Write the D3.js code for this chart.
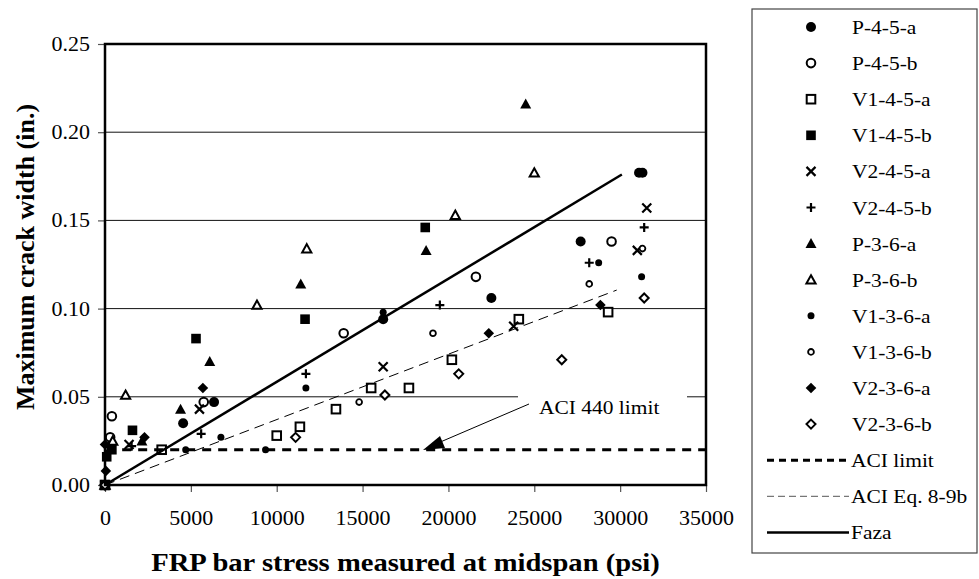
<!DOCTYPE html>
<html><head><meta charset="utf-8">
<script src="https://cdn.jsdelivr.net/npm/d3@7"></script>
<style>body{margin:0;background:#fff}svg{display:block}</style>
</head><body><svg id="c" width="979" height="579"></svg>
<script>
// ---- data ----
const xTicks = [0,5000,10000,15000,20000,25000,30000,35000];
const yTicks = [0,0.05,0.10,0.15,0.20,0.25];
const seriesNames = ["P-4-5-a","P-4-5-b","V1-4-5-a","V1-4-5-b","V2-4-5-a","V2-4-5-b","P-3-6-a","P-3-6-b","V1-3-6-a","V1-3-6-b","V2-3-6-a","V2-3-6-b"];
const P45a  = [[0,0],[350,0.022],[4550,0.035],[6350,0.047],[16200,0.094],[22500,0.106],[27700,0.138],[31100,0.177],[31300,0.177]];
const P45b  = [[0,0],[300,0.027],[400,0.039],[5750,0.047],[13900,0.086],[21600,0.118],[29500,0.138]];
const V145a = [[0,0],[3300,0.020],[10000,0.028],[11350,0.033],[13450,0.043],[15500,0.055],[17700,0.055],[20200,0.071],[24100,0.094],[29300,0.098]];
const V145b = [[0,0],[100,0.016],[400,0.020],[1600,0.031],[5300,0.083],[11650,0.094],[18650,0.146]];
const V245a = [[0,0],[1400,0.023],[5500,0.043],[16200,0.067],[23800,0.090],[31000,0.133],[31550,0.157]];
const V245b = [[0,0],[1550,0.022],[5600,0.029],[11700,0.063],[19500,0.102],[28200,0.126],[31400,0.146]];
const P36a  = [[0,0],[300,0.021],[2150,0.025],[4400,0.043],[6100,0.070],[11400,0.114],[18700,0.133],[24500,0.216]];
const P36b  = [[0,0],[450,0.025],[1200,0.051],[8850,0.102],[11750,0.134],[20400,0.153],[25000,0.177]];
const V136a = [[0,0],[4700,0.020],[6750,0.027],[9350,0.020],[11700,0.055],[16200,0.098],[28750,0.126],[31250,0.118]];
const V136b = [[0,0],[14800,0.047],[19100,0.086],[28200,0.114],[31300,0.134]];
const V236a = [[0,0],[50,0.008],[0,0.023],[2300,0.027],[5700,0.055],[22350,0.086],[28850,0.102]];
const V236b = [[0,0],[11100,0.027],[16300,0.051],[20600,0.063],[26600,0.071],[31400,0.106]];
const aciLimit = [[1000,0.02],[35000,0.02]];
const aciEq    = [[0,0],[29800,0.1105]];
const faza     = [[0,0],[30100,0.176]];
const lineNames = ["ACI limit","ACI Eq. 8-9b","Faza"];
const annotationText = "ACI 440 limit";

// ---- layout ----
const svg = d3.select("#c");
const L=105, R=706, T=44, B=485;
const x = d3.scaleLinear().domain([0,35000]).range([L,R]);
const y = d3.scaleLinear().domain([0,0.25]).range([B,T]);
const FONT = "'Liberation Serif','Times New Roman',serif";
const K = 1.1;
function stretch(sel,k){ sel.each(function(){ const w=this.getComputedTextLength(); d3.select(this).attr("textLength",w*(k||K)).attr("lengthAdjust","spacingAndGlyphs"); }); }

// gridlines
svg.append("g").selectAll("line").data(yTicks.filter(v=>v>0&&v<0.25)).join("line")
  .attr("x1",L).attr("x2",R).attr("y1",d=>y(d)).attr("y2",d=>y(d))
  .attr("stroke","#111").attr("stroke-width",1);

// annotation background
const ann = svg.append("g");
ann.append("rect").attr("x",518).attr("y",392).attr("width",169).attr("height",28).attr("fill","#fff");

// axes
const ya = svg.append("g").attr("transform",`translate(${L},0)`)
  .call(d3.axisLeft(y).tickValues(yTicks).tickSize(7).tickPadding(8).tickFormat(d3.format(".2f")));
const xa = svg.append("g").attr("transform",`translate(0,${B})`)
  .call(d3.axisBottom(x).tickValues(xTicks).tickSize(7).tickPadding(19).tickFormat(d3.format("d")));
[ya,xa].forEach(a=>{
  a.select(".domain").remove();
  a.selectAll(".tick line").attr("stroke","#555").attr("stroke-width",1.2);
  a.selectAll("text").attr("font-family",FONT).attr("font-size",20).attr("fill","#000");
});
stretch(ya.selectAll("text")); stretch(xa.selectAll("text"));

// markers
function marker(g,type){
  const s = g;
  switch(type){
    case 0: s.append("circle").attr("r",5).attr("fill","#000"); break;
    case 1: s.append("circle").attr("r",4.3).attr("fill","#fff").attr("stroke","#000").attr("stroke-width",2); break;
    case 2: s.append("rect").attr("x",-4.3).attr("y",-4.3).attr("width",8.6).attr("height",8.6).attr("fill","#fff").attr("stroke","#000").attr("stroke-width",2); break;
    case 3: s.append("rect").attr("x",-4.8).attr("y",-4.8).attr("width",9.6).attr("height",9.6).attr("fill","#000"); break;
    case 4: s.append("path").attr("d","M-4.5,-4.5L4.5,4.5M-4.5,4.5L4.5,-4.5").attr("stroke","#000").attr("stroke-width",2.2); break;
    case 5: s.append("path").attr("d","M-4.5,0L4.5,0M0,-4.5L0,4.5").attr("stroke","#000").attr("stroke-width",2.2); break;
    case 6: s.append("path").attr("d","M0,-5.5L5.5,4.5L-5.5,4.5Z").attr("fill","#000"); break;
    case 7: s.append("path").attr("d","M0,-4.5L4.6,3.8L-4.6,3.8Z").attr("fill","#fff").attr("stroke","#000").attr("stroke-width",2).attr("stroke-linejoin","miter"); break;
    case 8: s.append("circle").attr("r",3.5).attr("fill","#000"); break;
    case 9: s.append("circle").attr("r",2.9).attr("fill","#fff").attr("stroke","#000").attr("stroke-width",1.8); break;
    case 10: s.append("path").attr("d","M0,-5.3L5.3,0L0,5.3L-5.3,0Z").attr("fill","#000"); break;
    case 11: s.append("path").attr("d","M0,-4.5L4.5,0L0,4.5L-4.5,0Z").attr("fill","#fff").attr("stroke","#000").attr("stroke-width",2); break;
  }
}
const allSeries = [P45a,P45b,V145a,V145b,V245a,V245b,P36a,P36b,V136a,V136b,V236a,V236b];
const pts = svg.append("g");
allSeries.forEach((data,i)=>{
  pts.append("g").selectAll("g").data(data).join("g")
    .attr("transform",d=>`translate(${x(d[0])},${y(d[1])})`)
    .each(function(){ marker(d3.select(this),i); });
});

// lines
const line = d3.line().x(d=>x(d[0])).y(d=>y(d[1]));
svg.append("path").attr("d",line(aciEq)).attr("fill","none").attr("stroke","#000").attr("stroke-width",1).attr("stroke-dasharray","10,6");
svg.append("path").attr("d",line(faza)).attr("fill","none").attr("stroke","#000").attr("stroke-width",2.5);
svg.append("path").attr("d",line(aciLimit)).attr("fill","none").attr("stroke","#000").attr("stroke-width",3).attr("stroke-dasharray","9,7");

// annotation
const at = ann.append("text").attr("x",539).attr("y",414).attr("font-family",FONT).attr("font-size",19.5).text(annotationText);
stretch(at);
svg.append("line").attr("x1",529).attr("y1",404).attr("x2",438).attr("y2",443).attr("stroke","#000").attr("stroke-width",1);
svg.append("path").attr("d","M423,450L445,448L440,436Z").attr("fill","#000");

// frame
svg.append("rect").attr("x",L).attr("y",T).attr("width",R-L).attr("height",B-T)
  .attr("fill","none").attr("stroke","#000").attr("stroke-width",2.5);

// axis titles
const xt = svg.append("text").attr("x",(L+R)/2).attr("y",571).attr("text-anchor","middle")
  .attr("font-family",FONT).attr("font-weight","bold").attr("font-size",26).text("FRP bar stress measured at midspan (psi)");
stretch(xt);
svg.append("text").attr("transform","translate(34,257) rotate(-90)").attr("text-anchor","middle")
  .attr("font-family",FONT).attr("font-weight","bold").attr("font-size",26).text("Maximum crack width (in.)");

// legend
const lg = svg.append("g");
lg.append("rect").attr("x",752).attr("y",9).attr("width",225).attr("height",544).attr("fill","#fff").attr("stroke","#444").attr("stroke-width",1.2);
const rowY = i => 27 + i*36.1;
seriesNames.forEach((n,i)=>{
  const g = lg.append("g").attr("transform",`translate(811,${rowY(i)})`);
  marker(g,i);
  const t = lg.append("text").attr("x",852).attr("y",rowY(i)+7).attr("font-family",FONT).attr("font-size",19.5).text(n);
  stretch(t);
});
const lineStyles = [
  {stroke:"#000",w:3,dash:"7,5"},
  {stroke:"#777",w:1.2,dash:"7,4"},
  {stroke:"#000",w:2.5,dash:null}
];
lineNames.forEach((n,j)=>{
  const yy = rowY(12+j);
  lg.append("line").attr("x1",767).attr("x2",849).attr("y1",yy).attr("y2",yy)
    .attr("stroke",lineStyles[j].stroke).attr("stroke-width",lineStyles[j].w).attr("stroke-dasharray",lineStyles[j].dash);
  const t = lg.append("text").attr("x",851).attr("y",yy+7).attr("font-family",FONT).attr("font-size",19.5).text(n);
  stretch(t);
});
</script></body></html>
